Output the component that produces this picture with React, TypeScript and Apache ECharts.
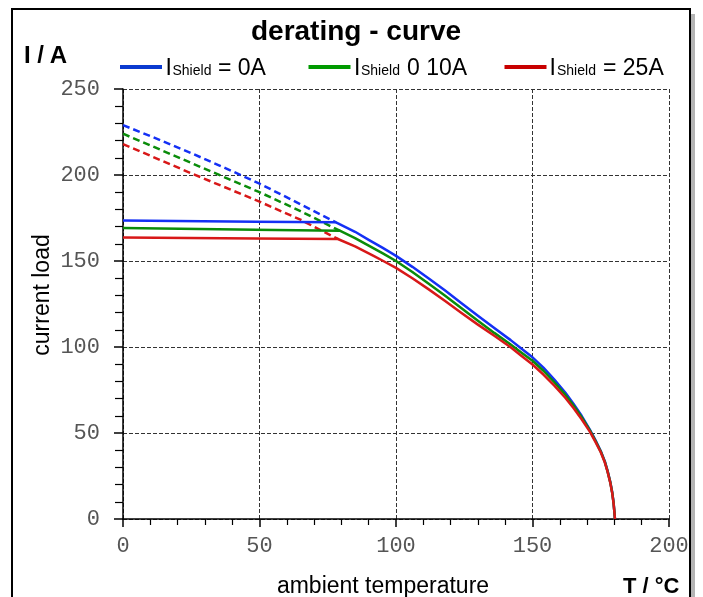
import React, { useEffect, useRef } from 'react';
import * as echarts from 'echarts';

// ---- data (T in °C, I in A) ----
const blueDashed: number[][] = [[0, 229], [12.5, 221], [25, 212.7], [37.5, 204], [50, 195], [62.5, 185], [78, 172.5]];
const greenDashed: number[][] = [[0, 224], [25, 207], [50, 190], [65, 179], [79.4, 167.6]];
const redDashed: number[][] = [[0, 218], [25, 201], [50, 184.5], [65, 174], [78.7, 162.8]];

const blueSolid: number[][] = [
  [0, 173.5], [78, 172.5], [85, 167], [90, 162.3], [95, 157.8], [100, 153], [106, 146.6], [112, 139.8],
  [118, 132.8], [124, 125.5], [130, 118.2], [136, 111], [142, 104], [146, 99], [150, 94], [154, 88],
  [158, 81], [162, 73.5], [165, 67], [168, 60], [171, 52], [173, 46], [175, 39.5], [176.5, 33.5],
  [177.5, 28], [178.5, 21.5], [179.2, 15.5], [179.7, 9.5], [180, 4], [180.2, 0],
];
const greenSolid: number[][] = [
  [0, 169.2], [79.4, 167.6], [85, 163.3], [90, 158.9], [95, 154.6], [100, 150], [106, 143.6], [112, 136.8],
  [118, 129.8], [124, 122.5], [130, 115.3], [136, 108.2], [142, 101.5], [146, 96.7], [150, 92], [154, 86.2],
  [158, 79.5], [162, 72.3], [165, 66], [168, 59.2], [171, 51.5], [173, 45.6], [175, 39.2], [176.5, 33.2],
  [177.5, 27.7], [178.5, 21.3], [179.2, 15.3], [179.7, 9.3], [180, 4], [180.2, 0],
];
const redSolid: number[][] = [
  [0, 163.7], [78.7, 162.8], [85, 158.5], [90, 154.5], [95, 150.3], [100, 146], [106, 140], [112, 133.5],
  [118, 126.7], [124, 119.7], [130, 113], [136, 106.5], [142, 99.8], [146, 94.8], [150, 89.8], [154, 84],
  [158, 77.5], [162, 70.5], [165, 64.5], [168, 58], [171, 50.8], [173, 45], [175, 38.8], [176.5, 32.8],
  [177.5, 27.5], [178.5, 21], [179.2, 15], [179.7, 9], [180, 4], [180.2, 0],
];

const legendValues = ['= 0A', '0 10A', '= 25A'];
const curveColors = ['#1430f5', '#0a8c0a', '#d81818'];
const legendColors = ['#0a3ad0', '#009a00', '#c80000'];

const titleText = 'derating - curve';
const yUnit = 'I / A';
const yName = 'current load';
const xName = 'ambient temperature';
const xUnit = 'T / °C';

const SANS = '"Liberation Sans", Arial, sans-serif';
const MONO = '"Liberation Mono", "DejaVu Sans Mono", monospace';

function lineSeries(data: number[][], color: string, dashed: boolean) {
  return {
    type: 'line',
    data,
    symbol: 'none',
    showSymbol: false,
    smooth: false,
    lineStyle: { color, width: 2.5, type: dashed ? [7, 4] : 'solid', join: 'round' },
    silent: true,
    z: 3,
  };
}

function txt(x: number, y: number, text: string, font: string, align: string, extra: any = {}) {
  return {
    type: 'text', x, y, ...extra,
    style: { text, font, fill: '#000', textAlign: align, textVerticalAlign: 'middle', align, verticalAlign: 'middle' },
  };
}

function legendItem(i: number, lineX: number, iX: number, subX: number, valX: number) {
  return [
    { type: 'line', shape: { x1: lineX, y1: 67, x2: lineX + 42, y2: 67 }, style: { stroke: legendColors[i], lineWidth: 4 } },
    txt(iX, 67.2, 'I', `23px ${SANS}`, 'left'),
    txt(subX, 70.2, 'Shield', `14px ${SANS}`, 'left'),
    txt(valX, 67.2, legendValues[i], `23px ${SANS}`, 'left'),
  ];
}

export default function App() {
  const ref = useRef<HTMLDivElement>(null);
  useEffect(() => {
    const chart = echarts.init(ref.current!, null, { renderer: 'svg' });
    const option: any = {
      animation: false,
      backgroundColor: 'transparent',
      grid: { left: 123, top: 89, right: 34, bottom: 78, containLabel: false },
      xAxis: {
        type: 'value', min: 0, max: 200, interval: 50,
        axisLine: { show: true, onZero: false, lineStyle: { color: '#000', width: 1.5 } },
        axisTick: { show: true, length: 8, lineStyle: { color: '#000', width: 1.5 } },
        minorTick: { show: true, splitNumber: 5, length: 6, lineStyle: { color: '#000', width: 1.2 } },
        axisLabel: { margin: 16, fontFamily: MONO, fontSize: 22, color: '#555' },
        splitLine: { show: true, lineStyle: { color: '#333', width: 1, type: [4, 2] } },
      },
      yAxis: {
        type: 'value', min: 0, max: 250, interval: 50,
        axisLine: { show: true, onZero: false, lineStyle: { color: '#000', width: 1.5 } },
        axisTick: { show: true, length: 9, lineStyle: { color: '#000', width: 1.5 } },
        minorTick: { show: true, splitNumber: 5, length: 8, lineStyle: { color: '#000', width: 1.2 } },
        axisLabel: { margin: 23, fontFamily: MONO, fontSize: 22, color: '#555' },
        splitLine: { show: true, lineStyle: { color: '#333', width: 1, type: [4, 2] } },
      },
      series: [
        lineSeries(blueDashed, curveColors[0], true),
        lineSeries(greenDashed, curveColors[1], true),
        lineSeries(redDashed, curveColors[2], true),
        lineSeries(blueSolid, curveColors[0], false),
        lineSeries(greenSolid, curveColors[1], false),
        lineSeries(redSolid, curveColors[2], false),
      ],
      graphic: [
        { type: 'rect', z: -20, shape: { x: 17, y: 14, width: 678, height: 620 }, style: { fill: '#b4b4b4' } },
        { type: 'rect', z: -10, shape: { x: 12, y: 9, width: 678, height: 620 }, style: { fill: '#fff', stroke: '#000', lineWidth: 2 } },
        txt(356, 30.3, titleText, `bold 28px ${SANS}`, 'center'),
        txt(24, 54.7, yUnit, `bold 24px ${SANS}`, 'left'),
        ...legendItem(0, 120, 165.5, 172.5, 218),
        ...legendItem(1, 308.5, 354, 361, 407),
        ...legendItem(2, 504.5, 549.5, 557, 603),
        txt(41, 295, yName, `23px ${SANS}`, 'center', { rotation: Math.PI / 2 }),
        txt(383, 584.5, xName, `23px ${SANS}`, 'center'),
        txt(623, 585, xUnit, `bold 22px ${SANS}`, 'left'),
      ],
    };
    chart.setOption(option);
    return () => chart.dispose();
  }, []);
  return <div ref={ref} style={{ position: 'fixed', left: 0, top: 0, width: 703, height: 597 }} />;
}
